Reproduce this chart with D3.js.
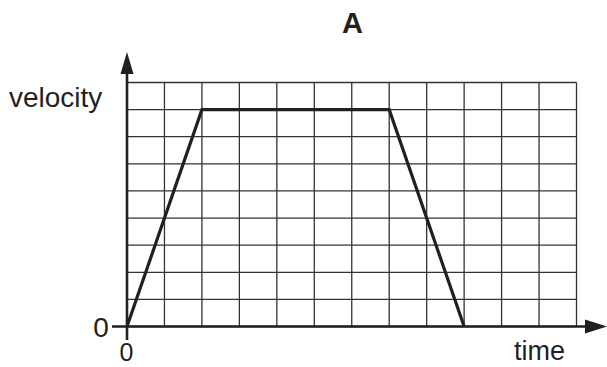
<!DOCTYPE html>
<html>
  <head>
    <meta charset="utf-8">
    <title>velocity-time graph A</title>
    <style>
      body { margin: 0; background: #fff; }
      text { font-family: "Liberation Sans", Arial, sans-serif; fill: #231f20; }
    </style>
  </head>
  <body>
    <div class="graph"></div>
    <script src="https://d3js.org/d3.v7.min.js"></script>
    <script>
        var w = 607, h = 367;
        var timeValues = [0, 2, 7, 9];
        var velocityValues = [0, 8, 8, 0];
        var gridCols = 12, gridRows = 9;
        var title = "A";

        var x = d3.scaleLinear().domain([0, gridCols]).range([127, 576.5]);
        var y = d3.scaleLinear().domain([0, gridRows]).range([326.5, 82.5]);

        var svg = d3.select(".graph")
        	.append("svg")
        	.attr("width", w)
        	.attr("height", h);

        // grid lines
        svg.append("g")
        	.attr("transform", "translate(0," + y(0) + ")")
        	.call(d3.axisBottom(x).tickValues(d3.range(0, gridCols + 1)).offset(0)
        		.tickSize(-(y(0) - y(gridRows))).tickFormat(""));
        svg.append("g")
        	.attr("transform", "translate(" + x(0) + ",0)")
        	.call(d3.axisLeft(y).tickValues(d3.range(0, gridRows + 1)).offset(0)
        		.tickSize(-(x(gridCols) - x(0))).tickFormat(""));
        svg.selectAll(".domain").remove();
        svg.selectAll(".tick line")
        	.attr("stroke", "#333")
        	.attr("stroke-width", 1.3);

        // axes with arrows
        svg.append("line")
        	.attr("x1", x(0)).attr("x2", x(0))
        	.attr("y1", 340).attr("y2", 70)
        	.attr("stroke", "#231f20").attr("stroke-width", 2.6);
        svg.append("path")
        	.attr("d", "M" + x(0) + ",52L" + (x(0) - 6.5) + ",74L" + (x(0) + 6.5) + ",74Z")
        	.attr("fill", "#231f20");
        svg.append("line")
        	.attr("x1", 112).attr("x2", 588)
        	.attr("y1", y(0)).attr("y2", y(0))
        	.attr("stroke", "#231f20").attr("stroke-width", 2.6);
        svg.append("path")
        	.attr("d", "M607," + y(0) + "L585," + (y(0) - 7) + "L585," + (y(0) + 7) + "Z")
        	.attr("fill", "#231f20");

        // the velocity line
        var line = d3.line()
        	.x(function(d, i) { return x(timeValues[i]); })
        	.y(function(d) { return y(d); });
        svg.append("path")
        	.datum(velocityValues)
        	.attr("d", line)
        	.attr("fill", "none")
        	.attr("stroke", "#231f20")
        	.attr("stroke-width", 3.2)
        	.attr("stroke-linejoin", "miter");

        // labels
        svg.append("text")
        	.attr("x", 352.5).attr("y", 33)
        	.attr("text-anchor", "middle")
        	.style("font-size", "29px").style("font-weight", "bold")
        	.text(title);
        svg.append("text")
        	.attr("x", 9).attr("y", 107)
        	.style("font-size", "28px")
        	.text("velocity");
        svg.append("text")
        	.attr("x", 101).attr("y", 336.5)
        	.attr("text-anchor", "middle")
        	.style("font-size", "28px")
        	.text("0");
        svg.append("text")
        	.attr("x", 126.5).attr("y", 360.5)
        	.attr("text-anchor", "middle")
        	.style("font-size", "25px")
        	.text("0");
        svg.append("text")
        	.attr("x", 514).attr("y", 360)
        	.style("font-size", "27px")
        	.text("time");
    </script>
  </body>
</html>
